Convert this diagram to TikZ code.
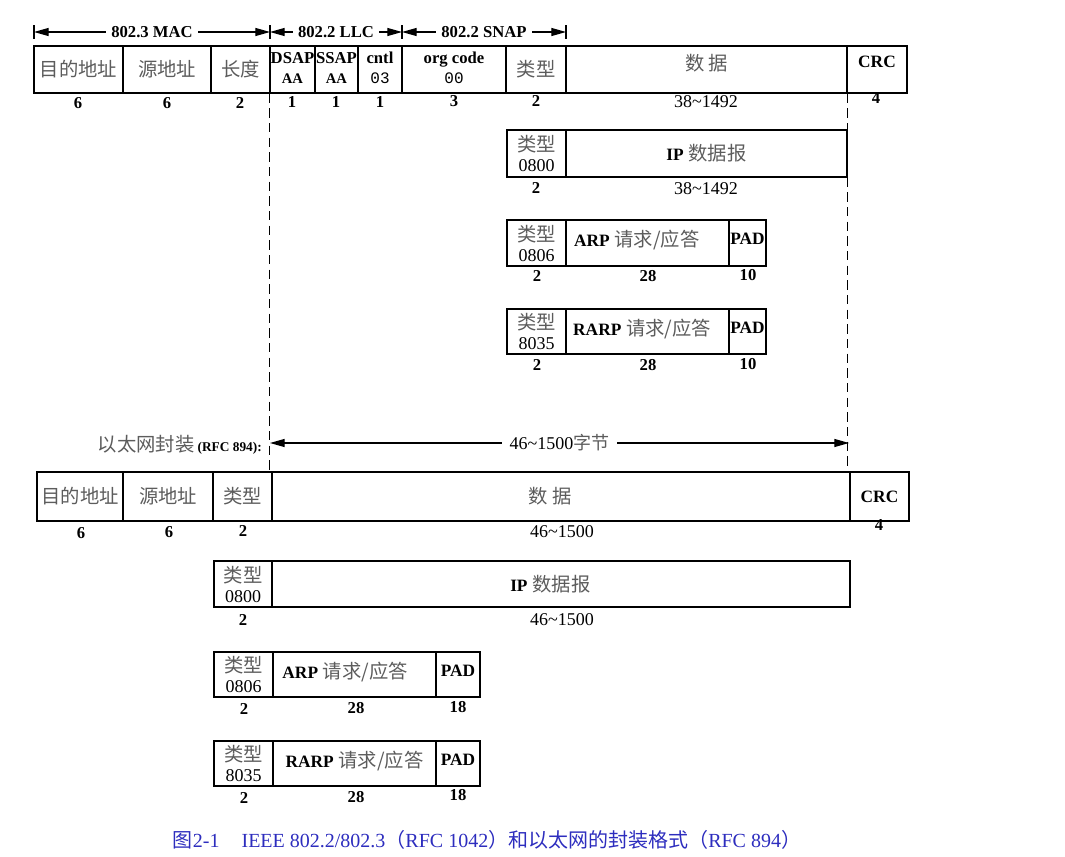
\documentclass[tikz,border=0pt]{standalone}
\usepackage{fontspec}
\setmainfont{Liberation Serif}
\setmonofont{Liberation Mono}
\newfontfamily\cjk{Noto Sans CJK SC}
\usetikzlibrary{fit,arrows.meta}
\definecolor{cjkgray}{gray}{0.36}
\definecolor{capblue}{RGB}{45,45,190}
\newcommand{\zh}[1]{{\cjk\color{cjkgray}#1}}
\newcommand{\tildech}{\textasciitilde}
\begin{document}
\begin{tikzpicture}[x=0.75pt,y=-0.75pt,
  fcell/.style={draw, line width=1pt, inner sep=0pt},
  ctext/.style={inner sep=0pt, align=center, font=\fontsize{14.5}{15}\selectfont},
  numlbl/.style={inner sep=1pt, font=\bfseries\fontsize{12.5}{14}\selectfont},
  rnglbl/.style={inner sep=1pt, font=\fontsize{13.5}{14}\selectfont},
  dimarrow/.style={line width=0.9pt, {Triangle[length=11pt,width=6pt]}-{Triangle[length=11pt,width=6pt]}},
  hdr/.style={fill=white, inner sep=4pt, font=\bfseries\fontsize{12.5}{14}\selectfont},
  vline/.style={line width=1pt, dash pattern=on 7pt off 4pt},
  tick/.style={line width=1pt}]
\useasboundingbox (0,0) rectangle (1065,857);

% ---------- header dimension arrows ----------
\coordinate (h0) at (34,32);
\coordinate (h1) at (270,32);
\coordinate (h2) at (402,32);
\coordinate (h3) at (566,32);
\foreach \h in {h0,h1,h2,h3}{\draw[tick] (\h) ++(0,-7) -- ++(0,14);}
\draw[dimarrow] (h0) -- node[hdr]{802.3 MAC} (h1);
\draw[dimarrow] (h1) -- node[hdr]{802.2 LLC} (h2);
\draw[dimarrow] (h2) -- node[hdr]{802.2 SNAP} (h3);

% ---------- 802.2/802.3 frame ----------
\node[fcell, fit={(34,46)(123,93)}, label={[ctext]center:\zh{目的地址}}] (da) {};
\node[fcell, fit={(123,46)(211,93)}, label={[ctext]center:\zh{源地址}}] (sa) {};
\node[fcell, fit={(211,46)(270,93)}, label={[ctext]center:\zh{长度}}] (len) {};
\node[fcell, fit={(270,46)(315,93)}, label={[ctext, yshift=1pt]center:{\fontsize{12.5}{14}\selectfont\textbf{DSAP}\\[0pt]\fontsize{11}{12}\selectfont\textbf{AA}}}] (dsap) {};
\node[fcell, fit={(315,46)(358,93)}, label={[ctext, yshift=1pt]center:{\fontsize{12.5}{14}\selectfont\textbf{SSAP}\\[0pt]\fontsize{11}{12}\selectfont\textbf{AA}}}] (ssap) {};
\node[fcell, fit={(358,46)(402,93)}, label={[ctext, yshift=1pt]center:{\fontsize{12.5}{14}\selectfont\textbf{cntl}\\[0pt]\ttfamily\fontsize{12}{12}\selectfont 03}}] (cntl) {};
\node[fcell, fit={(402,46)(506,93)}, label={[ctext, yshift=1pt]center:{\fontsize{12.5}{14}\selectfont\textbf{org code}\\[0pt]\ttfamily\fontsize{12}{12}\selectfont 00}}] (org) {};
\node[fcell, fit={(506,46)(566,93)}, label={[ctext]center:\zh{类型}}] (typ) {};
\node[fcell, fit={(566,46)(847,93)}, label={[ctext, yshift=5pt]center:\zh{数\ 据}}] (data) {};
\node[fcell, fit={(847,46)(907,93)}, label={[ctext, yshift=6pt]center:{\fontsize{13}{14}\selectfont\textbf{CRC}}}] (crc) {};

\node[numlbl] (lda) at (78,103) {6};
\node[numlbl] (lsa) at (167,103) {6};
\node[numlbl] (llen) at (240,103) {2};
\node[numlbl] (ldsap) at (292,102) {1};
\node[numlbl] (lssap) at (336,102) {1};
\node[numlbl] (lcntl) at (380,102) {1};
\node[numlbl] (lorg) at (454,101) {3};
\node[numlbl] (ltyp) at (536,101) {2};
\node[rnglbl] (ldata) at (706,102) {38\tildech1492};
\node[numlbl] (lcrc) at (876,98) {4};

% IP
\node[fcell, fit={(507,130)(566,177)}, label={[ctext]center:{\zh{类型}\\\fontsize{13.5}{14}\selectfont 0800}}] (ipt) {};
\node[fcell, fit={(566,130)(847,177)}, label={[ctext]center:{\textbf{\fontsize{13}{14}\selectfont IP} \zh{数据报}}}] (ipd) {};
\node[numlbl] (lipt) at (536,188) {2};
\node[rnglbl] (lipd) at (706,189) {38\tildech1492};

% ARP
\node[fcell, fit={(507,220)(566,266)}, label={[ctext]center:{\zh{类型}\\\fontsize{13.5}{14}\selectfont 0806}}] (arpt) {};
\node[fcell, fit={(566,220)(729,266)}, label={[ctext, xshift=-8pt, yshift=2pt]center:{\textbf{\fontsize{13}{14}\selectfont ARP} \zh{请求/应答}}}] (arpd) {};
\node[fcell, fit={(729,220)(766,266)}, label={[ctext, yshift=3pt]center:{\fontsize{13}{14}\selectfont\textbf{PAD}}}] (arpp) {};
\node[numlbl] (larpt) at (537,276) {2};
\node[numlbl] (larpd) at (648,276) {28};
\node[numlbl] (larpp) at (748,275) {10};

% RARP
\node[fcell, fit={(507,309)(566,354)}, label={[ctext]center:{\zh{类型}\\\fontsize{13.5}{14}\selectfont 8035}}] (rarpt) {};
\node[fcell, fit={(566,309)(729,354)}, label={[ctext, xshift=-4pt, yshift=2pt]center:{\textbf{\fontsize{13}{14}\selectfont RARP} \zh{请求/应答}}}] (rarpd) {};
\node[fcell, fit={(729,309)(766,354)}, label={[ctext, yshift=3pt]center:{\fontsize{13}{14}\selectfont\textbf{PAD}}}] (rarpp) {};
\node[numlbl] (lrarpt) at (537,365) {2};
\node[numlbl] (lrarpd) at (648,365) {28};
\node[numlbl] (lrarpp) at (748,364) {10};

% ---------- Ethernet (RFC 894) ----------
\node[anchor=east, inner sep=0pt] (ethlbl) at (262,445) {\zh{\fontsize{14.5}{15}\selectfont 以太网封装} {\bfseries\fontsize{10}{11}\selectfont (RFC 894):}};
\coordinate (e0) at (270,443);
\coordinate (e1) at (849,443);
\draw[dimarrow] (e0) -- node[fill=white, inner sep=6pt, font=\fontsize{13.5}{14}\selectfont]{46\tildech1500\zh{字节}} (e1);

\node[fcell, fit={(37,472)(123,521)}, label={[ctext]center:\zh{目的地址}}] (eda) {};
\node[fcell, fit={(123,472)(213,521)}, label={[ctext]center:\zh{源地址}}] (esa) {};
\node[fcell, fit={(213,472)(272,521)}, label={[ctext]center:\zh{类型}}] (etyp) {};
\node[fcell, fit={(272,472)(850,521)}, label={[ctext, xshift=-8pt]center:\zh{数\ 据}}] (edata) {};
\node[fcell, fit={(850,472)(909,521)}, label={[ctext]center:{\fontsize{13}{14}\selectfont\textbf{CRC}}}] (ecrc) {};
\node[numlbl] (leda) at (81,533) {6};
\node[numlbl] (lesa) at (169,532) {6};
\node[numlbl] (letyp) at (243,531) {2};
\node[rnglbl] (ledata) at (562,532) {46\tildech1500};
\node[numlbl] (lecrc) at (879,525) {4};

% Ethernet IP
\node[fcell, fit={(214,561)(272,607)}, label={[ctext]center:{\zh{类型}\\\fontsize{13.5}{14}\selectfont 0800}}] (eipt) {};
\node[fcell, fit={(272,561)(850,607)}, label={[ctext, xshift=-8pt]center:{\textbf{\fontsize{13}{14}\selectfont IP} \zh{数据报}}}] (eipd) {};
\node[numlbl] (leipt) at (243,620) {2};
\node[rnglbl] (leipd) at (562,620) {46\tildech1500};

% Ethernet ARP
\node[fcell, fit={(214,652)(273,697)}, label={[ctext]center:{\zh{类型}\\\fontsize{13.5}{14}\selectfont 0806}}] (earpt) {};
\node[fcell, fit={(273,652)(436,697)}, label={[ctext, xshift=-7pt, yshift=2pt]center:{\textbf{\fontsize{13}{14}\selectfont ARP} \zh{请求/应答}}}] (earpd) {};
\node[fcell, fit={(436,652)(480,697)}, label={[ctext, yshift=3pt]center:{\fontsize{13}{14}\selectfont\textbf{PAD}}}] (earpp) {};
\node[numlbl] (learpt) at (244,709) {2};
\node[numlbl] (learpd) at (356,708) {28};
\node[numlbl] (learpp) at (458,707) {18};

% Ethernet RARP
\node[fcell, fit={(214,741)(273,786)}, label={[ctext]center:{\zh{类型}\\\fontsize{13.5}{14}\selectfont 8035}}] (erarpt) {};
\node[fcell, fit={(273,741)(436,786)}, label={[ctext, yshift=2pt]center:{\textbf{\fontsize{13}{14}\selectfont RARP} \zh{请求/应答}}}] (erarpd) {};
\node[fcell, fit={(436,741)(480,786)}, label={[ctext, yshift=3pt]center:{\fontsize{13}{14}\selectfont\textbf{PAD}}}] (erarpp) {};
\node[numlbl] (lerarpt) at (244,798) {2};
\node[numlbl] (lerarpd) at (356,797) {28};
\node[numlbl] (lerarpp) at (458,795) {18};

% ---------- dashed guide lines ----------
\draw[vline] (dsap.south west) -- (dsap.south west |- edata.north);
\draw[vline] (data.south east) -- (ipd.north east);
\draw[vline] (ipd.south east) -- (ipd.south east |- ecrc.north);

% ---------- caption ----------
\node[inner sep=0pt, text=capblue, font=\fontsize{15}{17}\selectfont] (cap) at (487,840)
  {{\cjk 图}2-1\hspace{1.1em}IEEE 802.2/802.3{\cjk （}RFC 1042{\cjk ）和以太网的封装格式（}RFC 894{\cjk ）}};
\end{tikzpicture}
\end{document}
